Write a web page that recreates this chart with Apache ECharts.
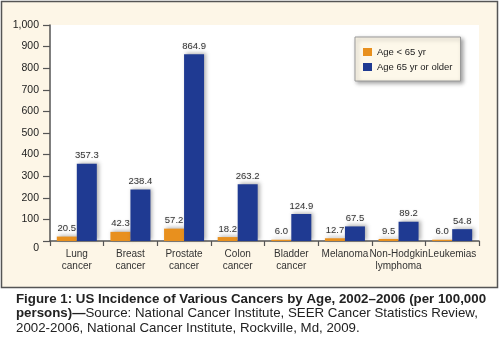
<!DOCTYPE html>
<html>
<head>
<meta charset="utf-8">
<script src="https://cdn.jsdelivr.net/npm/echarts@6/dist/echarts.min.js"></script>
<style>
  html, body { margin: 0; padding: 0; background: #ffffff; }
  #chart { width: 500px; height: 337px; }
</style>
</head>
<body>
<div id="chart"></div>
<script>
// Cancer types along the x axis
const categories = ['Lung\ncancer', 'Breast\ncancer', 'Prostate\ncancer', 'Colon\ncancer',
  'Bladder\ncancer', 'Melanoma', 'Non-Hodgkin\nlymphoma', 'Leukemias'];
// Incidence per 100,000 persons
const under65 = [20.5, 42.3, 57.2, 18.2, 6.0, 12.7, 9.5, 6.0];
const over65 = [357.3, 238.4, 864.9, 263.2, 124.9, 67.5, 89.2, 54.8];
const seriesNames = ['Age < 65 yr', 'Age 65 yr or older'];
// Y axis range and step
const yMin = 0, yMax = 1000, yStep = 100;

const FONT = '"Liberation Sans", Arial, Helvetica, sans-serif';
const chart = echarts.init(document.getElementById('chart'), null, { renderer: 'canvas' });

const barStyle = (color) => ({
  color: color,
  shadowColor: 'rgba(60,60,60,0.4)',
  shadowBlur: 4,
  shadowOffsetX: 2,
  shadowOffsetY: -1
});
const valueLabel = {
  show: true,
  position: 'top',
  distance: 3,
  color: '#333',
  fontFamily: FONT,
  fontSize: 9.5,
  formatter: (p) => p.value.toFixed(1),
  textShadowColor: 'rgba(0,0,0,0.15)',
  textShadowBlur: 2
};

chart.setOption({
  animation: false,
  backgroundColor: '#ffffff',
  textStyle: { fontFamily: FONT },
  graphic: [{
    type: 'rect',
    z: -100,
    shape: { x: 1.5, y: 1.5, width: 496, height: 286 },
    style: { fill: '#fdf6e7', stroke: '#555', lineWidth: 1.5 }
  }],
  title: {
    left: 11,
    top: 287,
    itemGap: 0,
    text: [
      '{b|Figure 1: US Incidence of Various Cancers by Age, 2002\u20132006 (per 100,000}',
      '{b|persons)\u2014}{r|Source: National Cancer Institute, SEER Cancer Statistics Review,}',
      '{r|2002-2006, National Cancer Institute, Rockville, Md, 2009.}'
    ].join('\n'),
    textStyle: {
      rich: {
        b: { fontFamily: FONT, fontWeight: 'bold', fontSize: 13.3, color: '#222', lineHeight: 14.5 },
        r: { fontFamily: FONT, fontWeight: 'normal', fontSize: 13.3, color: '#222', lineHeight: 14.5 }
      }
    }
  },
  legend: {
    orient: 'vertical',
    left: 355,
    top: 37,
    padding: [9, 8, 8, 8],
    itemGap: 3,
    itemWidth: 9,
    itemHeight: 8,
    icon: 'rect',
    backgroundColor: '#fdf8ea',
    borderColor: '#999',
    borderWidth: 1,
    shadowColor: 'rgba(0,0,0,0.35)',
    shadowBlur: 4,
    shadowOffsetX: 2,
    shadowOffsetY: 2,
    textStyle: { fontFamily: FONT, fontSize: 9.5, lineHeight: 12, color: '#222' },
    data: seriesNames
  },
  grid: {
    left: 50, right: 21, top: 25, bottom: 96,
    show: true, backgroundColor: '#ffffff', borderWidth: 0
  },
  xAxis: {
    type: 'category',
    data: categories,
    boundaryGap: true,
    axisLine: { show: true, lineStyle: { color: '#555', width: 1.5 } },
    axisTick: { show: true, length: 5, interval: 0, lineStyle: { color: '#555', width: 1.2 } },
    axisLabel: { interval: 0, color: '#333', fontSize: 10, lineHeight: 12, margin: 7, fontFamily: FONT }
  },
  yAxis: {
    type: 'value',
    min: yMin, max: yMax, interval: yStep,
    axisLine: { show: true, lineStyle: { color: '#555', width: 1.5 } },
    axisTick: { show: true, length: 7, lineStyle: { color: '#555', width: 1.2 } },
    splitLine: { show: false },
    axisLabel: {
      color: '#222', fontSize: 10.5, margin: 11, fontFamily: FONT,
      formatter: (v) => v === 0 ? '{z|0}' : v.toLocaleString('en-US'),
      rich: { z: { fontSize: 10.5, fontFamily: FONT, color: '#222', padding: [14, 0, 0, 0] } }
    }
  },
  series: [{
    name: seriesNames[0],
    type: 'bar',
    data: under65,
    barWidth: 20,
    barGap: '0%',
    itemStyle: barStyle('#e8901e'),
    label: valueLabel
  }, {
    name: seriesNames[1],
    type: 'bar',
    data: over65,
    barWidth: 20,
    barGap: '0%',
    itemStyle: barStyle('#1f3a92'),
    label: valueLabel
  }]
});
</script>
</body>
</html>
